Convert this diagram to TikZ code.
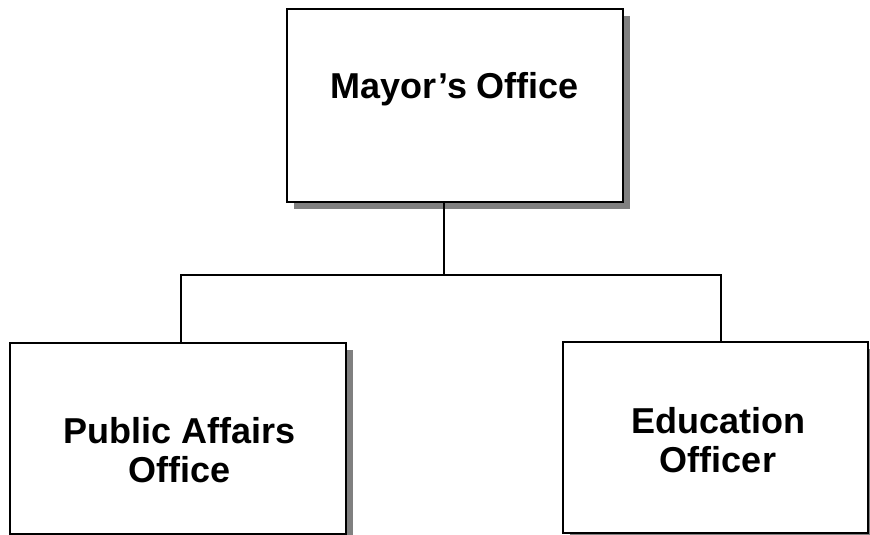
\documentclass[tikz,border=0pt]{standalone}
\usepackage{fontspec}
\setmainfont{Liberation Sans}
\usetikzlibrary{shadows}
\begin{document}
\begin{tikzpicture}[x=1pt,y=-1pt,
  box/.style={draw=black, line width=2pt, fill=white, rectangle, outer sep=0pt, inner sep=0pt,
    drop shadow={shadow xshift=7pt, shadow yshift=-7pt, fill=black!50, opacity=1}},
  lbl/.style={font=\bfseries\fontsize{36}{39}\selectfont, align=center, inner sep=0pt, anchor=base},
  conn/.style={draw=black, line width=2pt},
  thinconn/.style={draw=black, line width=1.4pt}]
\useasboundingbox (0,0) rectangle (870,535);
\node[box, minimum width=336pt, minimum height=193pt] (mayor) at (455,105.5) {};
\node[box, minimum width=336pt, minimum height=191pt] (pa) at (178,438.5) {};
\node[box, minimum width=305pt, minimum height=191pt] (edu) at (715.5,437.5) {};
\node[lbl] (mayortxt) at (455,98) {Mayor’s Office};
\node[lbl] (patxt) at (180,482) {Public Affairs\\Office};
\node[lbl] (edutxt) at (718,472) {Education\\Officer};
\coordinate (j) at (444,275);
\coordinate (jl) at (181,275);
\coordinate (jr) at (721,275);
\draw[thinconn] (mayor.south -| j) -- (j);
\draw[conn] (pa.north -| jl) -- (jl) -- (jr) -- (edu.north -| jr);
\end{tikzpicture}
\end{document}
